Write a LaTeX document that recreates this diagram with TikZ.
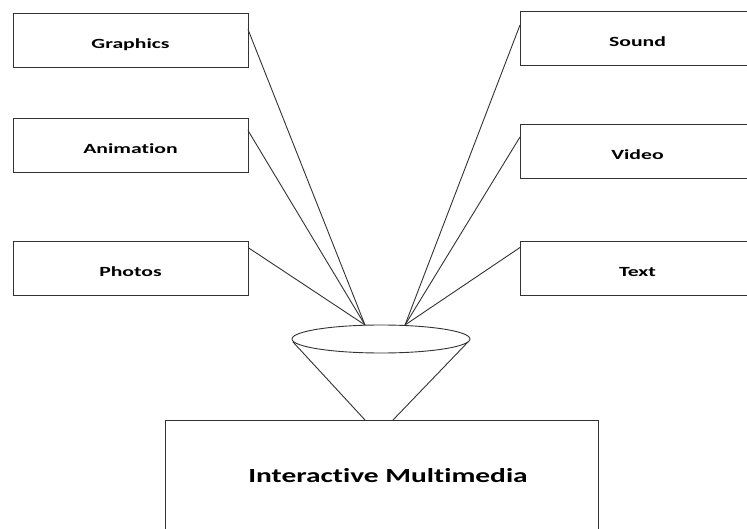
\documentclass[tikz,border=0pt]{standalone}
\usepackage{fontspec}
\newfontfamily\labfont[FakeStretch=1.55,Ligatures=NoCommon]{Carlito}
\newfontfamily\bigfont[FakeStretch=1.47,Ligatures=NoCommon]{Carlito}
\usetikzlibrary{shapes.geometric}
\begin{document}
\begin{tikzpicture}[x=1pt,y=-1pt,
  line/.style={draw=black!80, line width=0.9pt},
  box/.style={line, rectangle, inner sep=0pt, outer sep=0pt, minimum width=235pt, minimum height=54pt, text height=20pt, text depth=3pt, font=\labfont\bfseries\fontsize{14}{16}\selectfont},
  funnel/.style={line, ellipse, inner sep=0pt, outer sep=0pt, minimum width=178pt, minimum height=28pt},
  bigbox/.style={line, rectangle, inner sep=0pt, outer sep=0pt, minimum width=433pt, minimum height=150pt},
  bigtext/.style={font=\bigfont\bfseries\fontsize{20}{24}\selectfont}]
\useasboundingbox[fill=white] (0,0) rectangle (747,529);
% left boxes
\node[box] (g) at (130.5,40.5) {Graphics};
\node[box] (a) at (130.5,145.5) {Animation};
\node[box] (p) at (130.5,268.5) {Photos};
% right boxes
\node[box] (s) at (637.5,38) {Sound};
\node[box] (v) at (637.5,151) {Video};
\node[box] (t) at (637.5,268.5) {Text};
% funnel
\node[funnel] (f) at (381,339) {};
\coordinate (fl) at ([xshift=-16pt]f.north);
\coordinate (fr) at ([xshift=24pt]f.north);
% bottom box
\node[bigbox] (m) at (381.5,495) {};
\node[bigtext] (mt) at (388,476) {Interactive Multimedia};
% connectors
\draw[line] ([yshift=-16pt]g.north east) -- (fl);
\draw[line] ([yshift=-12pt]a.north east) -- (fl);
\draw[line] ([yshift=-6pt]p.north east) -- (fl);
\draw[line] ([yshift=-14pt]s.north west) -- (fr);
\draw[line] ([yshift=-13pt]v.north west) -- (fr);
\draw[line] ([yshift=-6pt]t.north west) -- (fr);
% cone
\draw[line] ([shift={(1pt,-3pt)}]f.west) -- ([xshift=-16.5pt]m.north);
\draw[line] ([shift={(-2pt,-3pt)}]f.east) -- ([xshift=11.5pt]m.north);
\end{tikzpicture}
\end{document}
